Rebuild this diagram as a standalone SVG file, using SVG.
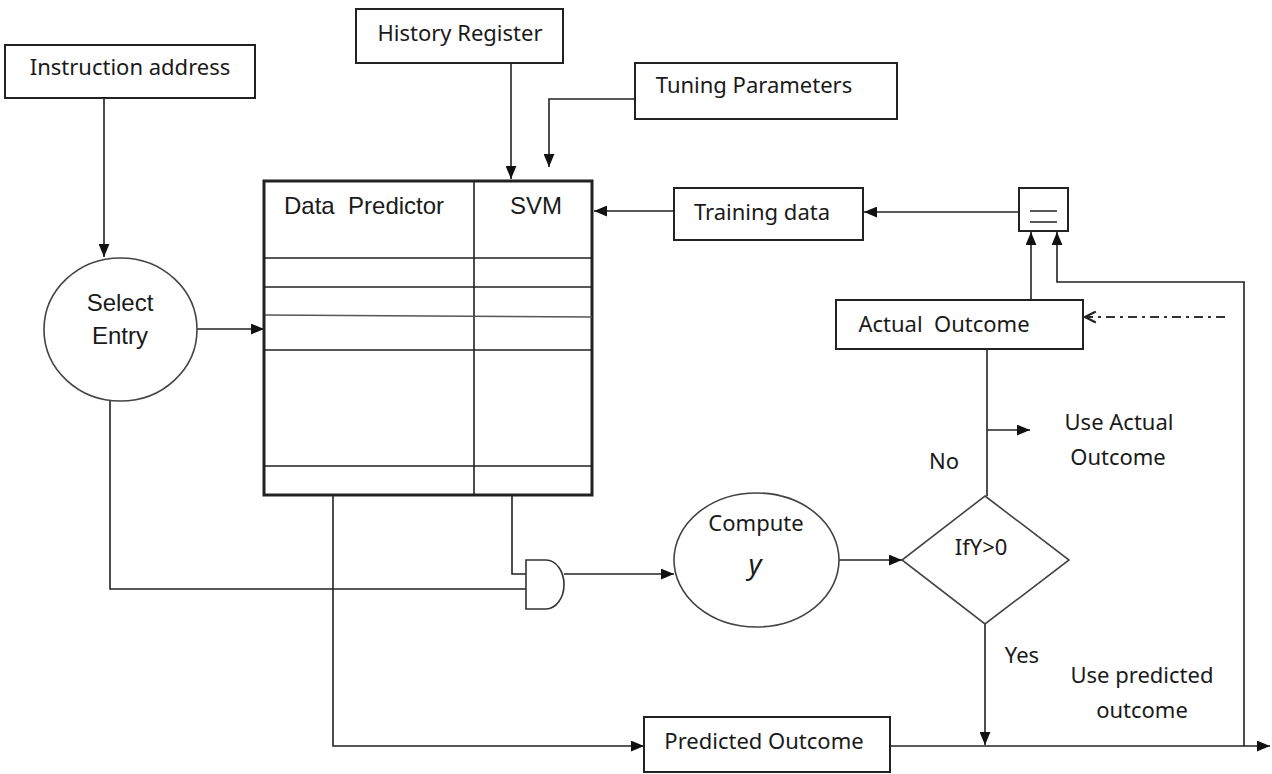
<svg xmlns="http://www.w3.org/2000/svg" width="1272" height="774" viewBox="0 0 1272 774">
<style>
.box{fill:#fff;stroke:#222;stroke-width:2}
.ell{fill:#fff;stroke:#444;stroke-width:1.6}
.ln{fill:none;stroke:#222;stroke-width:1.6}
.c{font-family:"Noto Sans","Open Sans",sans-serif;font-size:22px;fill:#1a1a1a}
.a{font-family:"Liberation Sans",Arial,sans-serif;font-size:24px;fill:#1a1a1a}
.mid{text-anchor:middle}
</style>
<defs>
<marker id="ah" viewBox="0 0 12 10" refX="12" refY="5" markerWidth="13" markerHeight="11" markerUnits="userSpaceOnUse" orient="auto"><path d="M0,0 L12,5 L0,10 z" fill="#111"/></marker>
<marker id="oa" viewBox="0 0 12 12" refX="11" refY="6" markerWidth="13" markerHeight="13" markerUnits="userSpaceOnUse" orient="auto"><path d="M1,1 L11,6 L1,11" fill="none" stroke="#222" stroke-width="2"/></marker>
</defs>
<rect width="1272" height="774" fill="#fff"/>

<g id="connectors">
<path class="ln" d="M104,98 V257" marker-end="url(#ah)"/>
<path class="ln" d="M197,329 H264" marker-end="url(#ah)"/>
<path class="ln" d="M110,400 V589 H526"/>
<path class="ln" d="M511,63 V179" marker-end="url(#ah)"/>
<path class="ln" d="M635,99 H549 V167" marker-end="url(#ah)"/>
<path class="ln" d="M674,211 H594" marker-end="url(#ah)"/>
<path class="ln" d="M1019,212 H864" marker-end="url(#ah)"/>
<path class="ln" d="M1031,300 V232" marker-end="url(#ah)"/>
<path class="ln" d="M1244,746 V282 H1057 V232" marker-end="url(#ah)"/>
<path d="M1225,317 H1085" fill="none" stroke="#333" stroke-width="2" stroke-dasharray="9,5,3,5" marker-end="url(#oa)"/>
<path class="ln" d="M987,349 V496"/>
<path class="ln" d="M987,430 H1030" marker-end="url(#ah)"/>
<path class="ln" d="M839,560 H902" marker-end="url(#ah)"/>
<path class="ln" d="M512,495 V574 H526"/>
<path class="ln" d="M564,574 H674" marker-end="url(#ah)"/>
<path class="ln" d="M333,495 V746 H644" marker-end="url(#ah)"/>
<path class="ln" d="M890,746 H1270" marker-end="url(#ah)"/>
<path class="ln" d="M985,624 V745" marker-end="url(#ah)"/>
</g>

<g id="instruction-address">
<rect class="box" x="5" y="45" width="250" height="53"/>
<text class="c mid" x="130" y="75">Instruction address</text>
</g>

<g id="history-register">
<rect class="box" x="356" y="9" width="207" height="54"/>
<text class="c mid" x="460" y="41">History Register</text>
</g>

<g id="tuning-parameters">
<rect class="box" x="635" y="63" width="262" height="56"/>
<text class="c mid" x="754" y="93">Tuning Parameters</text>
</g>

<g id="training-data">
<rect class="box" x="674" y="188" width="189" height="52"/>
<text class="c mid" x="762" y="220">Training data</text>
</g>

<g id="equals">
<rect class="box" x="1019" y="188" width="49" height="43"/>
<path class="ln" d="M1030,211 H1057 M1030,222 H1057"/>
</g>

<g id="actual-outcome">
<rect class="box" x="836" y="300" width="247" height="49"/>
<text class="c mid" x="944" y="332">Actual&#160; Outcome</text>
</g>

<g id="select-entry">
<ellipse class="ell" cx="120.5" cy="329.5" rx="76.5" ry="71.5"/>
<text class="a mid" x="120" y="311" font-size="25">Select</text>
<text class="a mid" x="120" y="344" font-size="25">Entry</text>
</g>

<g id="data-table">
<rect x="264" y="181" width="328" height="314" fill="#fff" stroke="#222" stroke-width="3"/>
<path class="ln" d="M474,181 V495 M264,258 H592 M264,287 H592 M264,350 H592 M264,466 H592"/>
<path d="M265,315 L592,317" stroke="#555" stroke-width="1.6" fill="none"/>
<text class="a" x="284" y="214">Data&#160; Predictor</text>
<text class="a mid" x="536" y="214">SVM</text>
</g>

<g id="and-gate">
<path d="M526,560 H546 A18,24.5 0 0 1 546,609 H526 Z" fill="#fff" stroke="#333" stroke-width="1.6"/>
</g>

<g id="compute-y">
<ellipse class="ell" cx="756.5" cy="560" rx="82.5" ry="67"/>
<text class="c mid" x="756" y="531" font-size="17">Compute</text>
<text class="mid" x="755" y="574" font-family="Noto Sans, sans-serif" font-style="italic" font-size="28" fill="#1a1a1a">y</text>
</g>

<g id="decision">
<polygon points="985,496 1069,560 985,624 902,560" fill="#fff" stroke="#444" stroke-width="1.6"/>
<text class="c mid" x="981" y="555" font-size="19">IfY&gt;0</text>
</g>

<g id="predicted-outcome">
<rect class="box" x="644" y="717" width="246" height="55"/>
<text class="c mid" x="764" y="749">Predicted Outcome</text>
</g>

<g id="labels">
<text class="c mid" x="944" y="469">No</text>
<text class="c mid" x="1119" y="430">Use Actual</text>
<text class="c mid" x="1118" y="465">Outcome</text>
<text class="c mid" x="1022" y="663">Yes</text>
<text class="c mid" x="1142" y="683">Use predicted</text>
<text class="c mid" x="1142" y="718">outcome</text>
</g>
</svg>
